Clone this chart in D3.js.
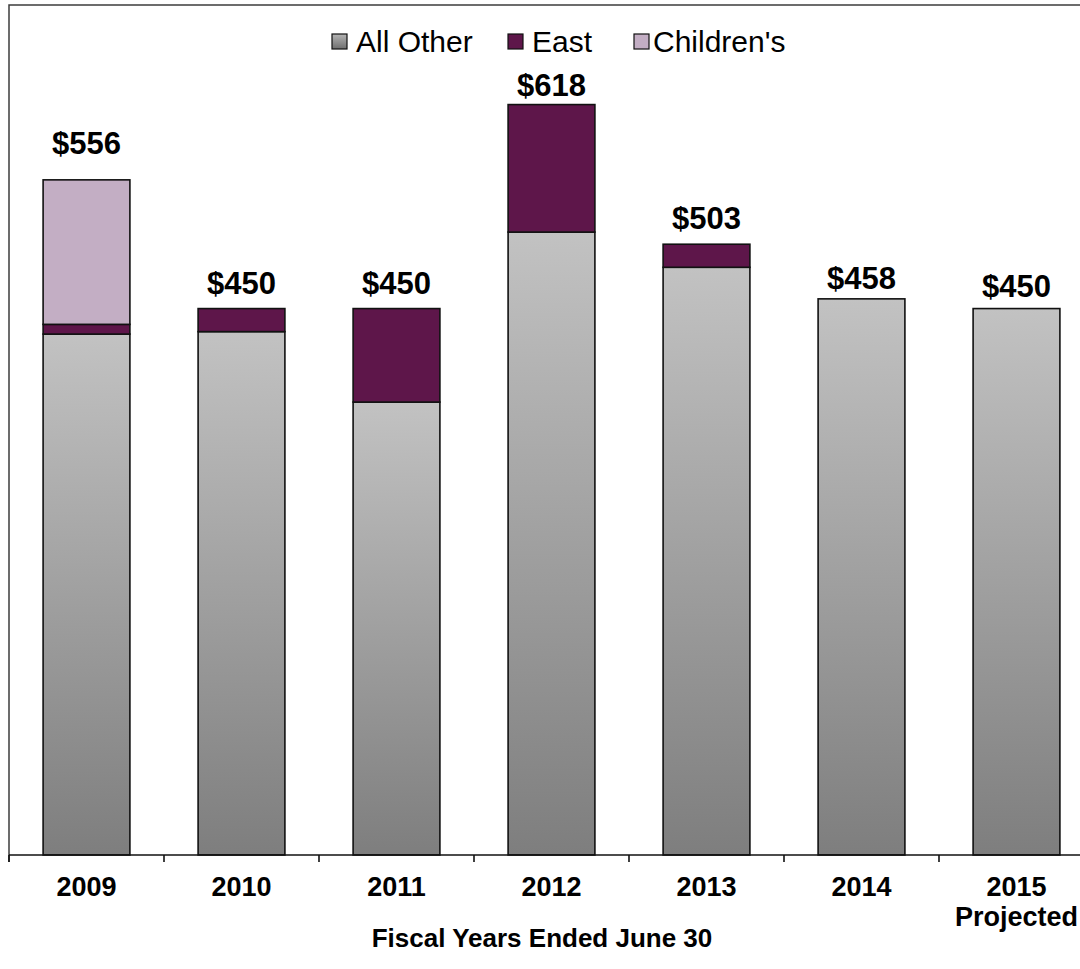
<!DOCTYPE html>
<html>
<head>
<meta charset="utf-8">
<script src="https://cdn.jsdelivr.net/npm/d3@7"></script>
<style>
  html, body { margin: 0; padding: 0; background: #fff; }
  svg { display: block; font-family: Arial, "Liberation Sans", Helvetica, sans-serif; }
</style>
</head>
<body>
<svg id="chart" width="1080" height="969"></svg>
<script>
// Fiscal years (x categories)
const years = ["2009", "2010", "2011", "2012", "2013", "2014", "2015"];
const yearSubLabels = ["", "", "", "", "", "", "Projected"];

// Series values ($ millions)
const allOther = [429, 431, 373, 513, 484, 458, 450];
const east = [8, 19, 77, 105, 19, 0, 0];
const childrens = [119, 0, 0, 0, 0, 0, 0];

// Stated totals above each bar
const totals = [556, 450, 450, 618, 503, 458, 450];

const seriesNames = ["All Other", "East", "Children's"];
const xTitle = "Fiscal Years Ended June 30";

// ---- layout ----
const W = 1080, H = 969;
const baseY = 855, topY = 5, leftX = 9;
const labelLift = [26, 15, 15, 9, 15, 10, 12];

const svg = d3.select("#chart");

const x = d3.scaleBand()
  .domain(years)
  .range([leftX, leftX + 155 * years.length])
  .paddingInner(0.44)
  .paddingOuter(0.22);

const y = d3.scaleLinear().domain([0, 700]).range([baseY, topY]);

const colors = { "All Other": "url(#gradOther)", "East": "#5e164a", "Children's": "#c3aec4" };

// gradient for the "All Other" segments
const defs = svg.append("defs");
const g1 = defs.append("linearGradient").attr("id", "gradOther")
  .attr("x1", 0).attr("y1", 0).attr("x2", 0).attr("y2", 1);
g1.append("stop").attr("offset", "0%").attr("stop-color", "#c2c2c2");
g1.append("stop").attr("offset", "100%").attr("stop-color", "#7e7e7e");
const g2 = defs.append("linearGradient").attr("id", "gradLegend")
  .attr("x1", 0).attr("y1", 0).attr("x2", 0).attr("y2", 1);
g2.append("stop").attr("offset", "0%").attr("stop-color", "#b4b4b4");
g2.append("stop").attr("offset", "100%").attr("stop-color", "#6e6e6e");

// plot frame: top and left edges
svg.append("path")
  .attr("d", `M${leftX},${baseY + 7}V${topY}H${W}`)
  .attr("fill", "none").attr("stroke", "#3c3c3c").attr("stroke-width", 1.5);

// stacked data
const rows = years.map((yr, i) => ({ year: yr, "All Other": allOther[i], "East": east[i], "Children's": childrens[i] }));
const stack = d3.stack().keys(seriesNames)(rows);

svg.append("g").selectAll("g")
  .data(stack)
  .join("g")
  .attr("fill", d => colors[d.key])
  .selectAll("rect")
  .data(d => d.filter(s => s[1] - s[0] > 0))
  .join("rect")
  .attr("x", d => x(d.data.year))
  .attr("width", x.bandwidth())
  .attr("y", d => y(d[1]))
  .attr("height", d => y(d[0]) - y(d[1]))
  .attr("stroke", "#111")
  .attr("stroke-width", 1.6);

// x axis: baseline with ticks at category boundaries
const axisG = svg.append("g");
axisG.append("line")
  .attr("x1", leftX).attr("x2", W)
  .attr("y1", baseY).attr("y2", baseY)
  .attr("stroke", "#111").attr("stroke-width", 1.6);
const step = x.step();
d3.range(years.length + 1).forEach(i => {
  const tx = leftX + i * step;
  axisG.append("line")
    .attr("x1", tx).attr("x2", tx)
    .attr("y1", baseY).attr("y2", baseY + 7)
    .attr("stroke", "#111").attr("stroke-width", 1.6);
});

// category labels
const cx = yr => x(yr) + x.bandwidth() / 2;
svg.append("g").selectAll("text")
  .data(years)
  .join("text")
  .attr("x", d => cx(d))
  .attr("y", 896)
  .attr("text-anchor", "middle")
  .attr("font-weight", "bold")
  .attr("font-size", 27)
  .text(d => d);
svg.append("g").selectAll("text")
  .data(years.filter((d, i) => yearSubLabels[i]))
  .join("text")
  .attr("x", d => cx(d))
  .attr("y", 926)
  .attr("text-anchor", "middle")
  .attr("font-weight", "bold")
  .attr("font-size", 27)
  .text(d => yearSubLabels[years.indexOf(d)]);

// total value labels
svg.append("g").selectAll("text")
  .data(years)
  .join("text")
  .attr("x", d => cx(d))
  .attr("y", (d, i) => y(totals[i]) - labelLift[i])
  .attr("text-anchor", "middle")
  .attr("font-weight", "bold")
  .attr("font-size", 31)
  .text((d, i) => "$" + totals[i]);

// axis title
svg.append("text")
  .attr("x", 542).attr("y", 947)
  .attr("text-anchor", "middle")
  .attr("font-weight", "bold")
  .attr("font-size", 26)
  .text(xTitle);

// legend
const legendItems = [
  { name: "All Other", fill: "url(#gradLegend)", sx: 332, tx: 356 },
  { name: "East", fill: colors["East"], sx: 508, tx: 532 },
  { name: "Children's", fill: colors["Children's"], sx: 634, tx: 653 }
];
const lg = svg.append("g").selectAll("g").data(legendItems).join("g");
lg.append("rect")
  .attr("x", d => d.sx).attr("y", 34).attr("width", 15).attr("height", 15)
  .attr("fill", d => d.fill).attr("stroke", "#111").attr("stroke-width", 1.2);
lg.append("text")
  .attr("x", d => d.tx).attr("y", 52)
  .attr("font-size", 30)
  .text(d => d.name);
</script>
</body>
</html>
